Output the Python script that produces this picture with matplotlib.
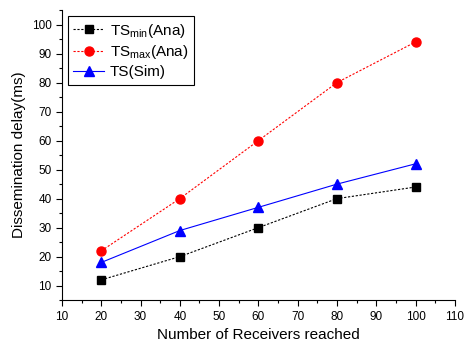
import matplotlib
matplotlib.use("Agg")
import matplotlib.pyplot as plt
from matplotlib.ticker import MultipleLocator

plt.rcParams['font.family'] = ['Liberation Sans', 'DejaVu Sans']

receivers = [20, 40, 60, 80, 100]
ts_min = [12, 20, 30, 40, 44]
ts_max = [22, 40, 60, 80, 94]
ts_sim = [18, 29, 37, 45, 52]

fig = plt.figure(figsize=(4.66, 3.47), dpi=100)
ax = fig.add_axes([0.133, 0.135, 0.843, 0.836])

ax.plot(receivers, ts_min, color='black', ls=(0, (2, 1.5)), lw=0.8,
        marker='s', ms=5.5, label=r'TS$_{\mathregular{min}}$(Ana)')
ax.plot(receivers, ts_max, color='red', ls=(0, (2, 1.5)), lw=0.8,
        marker='o', ms=6.5, label=r'TS$_{\mathregular{max}}$(Ana)')
ax.plot(receivers, ts_sim, color='blue', ls='-', lw=0.8,
        marker='^', ms=6.5, label='TS(Sim)')

ax.set_xlim(10, 110)
ax.set_ylim(5, 105)
ax.xaxis.set_major_locator(MultipleLocator(10))
ax.xaxis.set_minor_locator(MultipleLocator(5))
ax.yaxis.set_major_locator(MultipleLocator(10))
ax.yaxis.set_minor_locator(MultipleLocator(5))
ax.spines['top'].set_visible(False)
ax.spines['right'].set_visible(False)
ax.tick_params(which='both', direction='out', labelsize=8.5, width=0.8)
ax.tick_params(which='major', length=4)
ax.tick_params(which='minor', length=2.5)

ax.set_xlabel('Number of Receivers reached', fontsize=11)
ax.set_ylabel('Dissemination delay(ms)', fontsize=11)

leg = ax.legend(loc='upper left', fontsize=11, fancybox=False, framealpha=1,
                edgecolor='black', handlelength=2.0, borderaxespad=0.4,
                labelspacing=0.25, handletextpad=0.4, borderpad=0.35)
leg.get_frame().set_linewidth(0.8)

fig.savefig('out.png', dpi=100)
